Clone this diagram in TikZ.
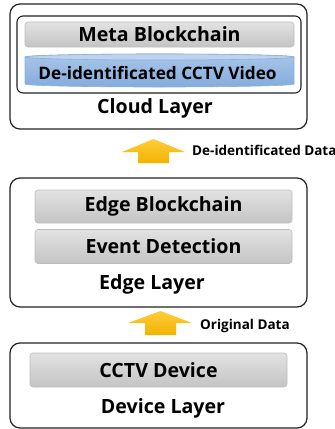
\documentclass[tikz,border=0pt]{standalone}
\usepackage{fontspec}
\setmainfont{Open Sans}
\definecolor{barTop}{HTML}{E2E2E2}
\definecolor{barBot}{HTML}{C4C4C4}
\definecolor{barLine}{HTML}{BDBDBD}
\definecolor{cylTop}{HTML}{BCD2EE}
\definecolor{cylA}{HTML}{A9C5E8}
\definecolor{cylB}{HTML}{84ACDC}
\definecolor{cylLine}{HTML}{8DB0DB}
\definecolor{arrTop}{HTML}{FFCC3A}
\definecolor{arrBot}{HTML}{F2B300}
\definecolor{boxLine}{HTML}{222222}
\begin{document}
\begin{tikzpicture}[x=1pt,y=-1pt,
  layerbox/.style={draw=boxLine,line width=1.2pt,rounded corners=10pt,inner sep=0pt},
  innerbox/.style={draw=boxLine,line width=1.1pt,rounded corners=6pt,inner sep=0pt},
  graybar/.style={draw=barLine,line width=0.6pt,rounded corners=3pt,top color=barTop,bottom color=barBot,inner sep=0pt,font=\fontsize{19.6}{21}\selectfont\bfseries},
  bigtxt/.style={font=\fontsize{19.6}{21}\selectfont\bfseries,inner sep=0pt},
  smalltxt/.style={font=\fontsize{13.5}{15}\selectfont\bfseries,inner sep=0pt,anchor=west},
  uparrow/.style={top color=arrTop,bottom color=arrBot,draw=none}]
\useasboundingbox (0,0) rectangle (335,429);
% Cloud layer
\node[layerbox,minimum width=297pt,minimum height=125pt] (cloud) at (158.5,66.5) {};
\node[innerbox,minimum width=284pt,minimum height=77pt] (cloudin) at (159,54.5) {};
\node[graybar,minimum width=269pt,minimum height=25pt] (meta) at (159.5,34.5) {Meta Blockchain};
% cylinder
\shade[top color=cylA,bottom color=cylB,draw=cylLine,line width=0.6pt]
  (25,57) -- (25,84) arc[start angle=180,end angle=360,x radius=134.5pt,y radius=3pt]
  -- (294,57) arc[start angle=0,end angle=180,x radius=134.5pt,y radius=3pt] -- cycle;
\filldraw[fill=cylTop,draw=cylLine,line width=0.6pt] (159.5,57) ellipse[x radius=134.5pt,y radius=3pt];
\node[font=\fontsize{17.2}{19}\selectfont\bfseries,inner sep=0pt] (video) at (157.5,73) {De-identificated CCTV Video};
\node[bigtxt] (cloudlbl) at (155,108) {Cloud Layer};
% arrow 1
\coordinate (a1) at (153.5,151);
\shade[uparrow] (122,152) -- (153.5,139) -- (185,152) -- (169,152) -- (169,163) -- (138,163) -- (138,152) -- cycle;
\node[smalltxt] (lbl1) at (192,150) {De-identificated Data};
% Edge layer
\node[layerbox,minimum width=297pt,minimum height=129pt] (edge) at (158.5,242.5) {};
\node[graybar,minimum width=257pt,minimum height=33pt] (eb) at (163.5,206.5) {Edge Blockchain};
\node[graybar,minimum width=257pt,minimum height=34pt] (ed) at (163.5,246.5) {Event Detection};
\node[bigtxt] (edgelbl) at (152,284) {Edge Layer};
% arrow 2
\coordinate (a2) at (160.5,323);
\shade[uparrow] (128,323) -- (160.5,311) -- (192,323) -- (176,323) -- (176,335) -- (145,335) -- (145,323) -- cycle;
\node[smalltxt] (lbl2) at (200,326) {Original Data};
% Device layer
\node[layerbox,minimum width=297pt,minimum height=85pt] (device) at (158.5,385.5) {};
\node[graybar,minimum width=257pt,minimum height=34pt] (cctv) at (158.5,370) {CCTV Device};
\node[bigtxt] (devlbl) at (163,408) {Device Layer};
\end{tikzpicture}
\end{document}
